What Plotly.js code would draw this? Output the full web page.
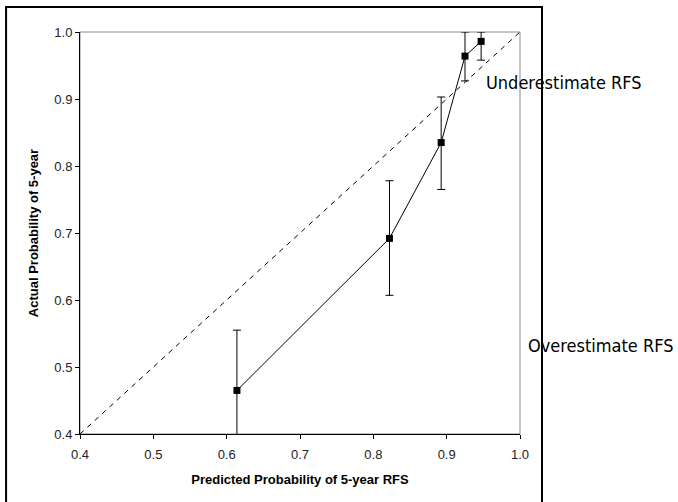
<!DOCTYPE html>
<html>
<head>
<meta charset="utf-8">
<script src="https://cdn.plot.ly/plotly-3.0.1.min.js"></script>
<style>html,body{margin:0;padding:0;background:#fff;}#chart{width:678px;height:502px;}</style>
</head>
<body>
<div id="chart"></div>
<script>
// Calibration data
const predicted = [0.614, 0.822, 0.8925, 0.925, 0.947];
const actual    = [0.465, 0.692, 0.835, 0.964, 0.986];
const ciUpper   = [0.555, 0.778, 0.903, 1.000, 1.000];
const ciLower   = [0.375, 0.607, 0.765, 0.927, 0.958];
const idealLine = [0.4, 1.0];
const tickVals  = [0.4, 0.5, 0.6, 0.7, 0.8, 0.9, 1.0];

const errPlus  = actual.map((v, i) => ciUpper[i] - v);
const errMinus = actual.map((v, i) => v - ciLower[i]);

const traces = [
  {
    x: idealLine, y: idealLine, type: 'scatter', mode: 'lines',
    line: {color: '#000', width: 1, dash: '5px,5px'}, hoverinfo: 'skip', showlegend: false
  },
  {
    x: predicted, y: actual, type: 'scatter', mode: 'lines+markers',
    line: {color: '#000', width: 1},
    marker: {symbol: 'square', size: 7, color: '#000'},
    error_y: {type: 'data', symmetric: false, array: errPlus, arrayminus: errMinus,
              color: '#000', thickness: 1, width: 4},
    showlegend: false
  }
];

const layout = {
  width: 678, height: 502,
  margin: {l: 80, r: 158, t: 32, b: 68},
  paper_bgcolor: '#fff', plot_bgcolor: '#fff',
  showlegend: false,
  font: {family: 'Liberation Sans, Arial, sans-serif', color: '#000'},
  xaxis: {
    range: [0.4, 1.0], tickvals: tickVals, tickformat: '.1f',
    showgrid: false, zeroline: false, showline: true, linecolor: '#000', linewidth: 1,
    ticks: 'outside', ticklen: 4, tickcolor: '#000', ticklabelstandoff: 4,
    tickfont: {size: 13, color: '#222'},
    title: {text: 'Predicted Probability of 5-year RFS', font: {size: 13, weight: 'bold'}, standoff: 14}
  },
  yaxis: {
    range: [0.4, 1.0], tickvals: tickVals, tickformat: '.1f',
    showgrid: false, zeroline: false, showline: true, linecolor: '#000', linewidth: 1,
    ticks: 'outside', ticklen: 4, tickcolor: '#000',
    tickfont: {size: 13, color: '#222'},
    title: {text: 'Actual Probability of 5-year', font: {size: 13, weight: 'bold'}, standoff: 12}
  },
  shapes: [
    {type: 'rect', xref: 'paper', yref: 'paper', x0: 0, x1: 1, y0: 0, y1: 1,
     line: {color: '#888', width: 1}, layer: 'below'},
    {type: 'rect', xref: 'paper', yref: 'paper', x0: -0.168, x1: 1.05, y0: -0.18, y1: 1.062,
     line: {color: '#000', width: 2}, layer: 'above'}
  ],
  annotations: [
    {text: 'Underestimate RFS', xref: 'paper', yref: 'paper', x: 0.918, y: 0.8756,
     xanchor: 'left', yanchor: 'middle', showarrow: false,
     font: {family: 'DejaVu Sans Condensed, DejaVu Sans, sans-serif', size: 18, color: '#000'}},
    {text: 'Overestimate RFS', xref: 'paper', yref: 'paper', x: 1.013, y: 0.219,
     xanchor: 'left', yanchor: 'middle', showarrow: false,
     font: {family: 'DejaVu Sans Condensed, DejaVu Sans, sans-serif', size: 18, color: '#000'}}
  ]
};

Plotly.newPlot('chart', traces, layout, {staticPlot: true, displayModeBar: false});
</script>
</body>
</html>
